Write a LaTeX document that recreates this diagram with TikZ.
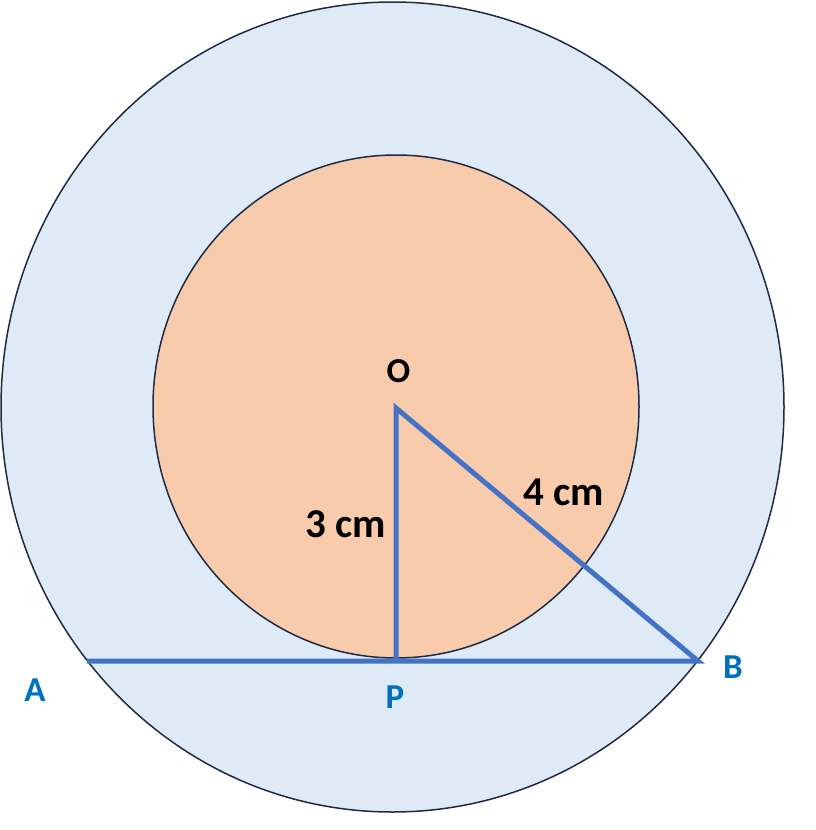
\documentclass[tikz,border=0pt]{standalone}
\usepackage{fontspec}
\setmainfont{Carlito}
\definecolor{ringblue}{HTML}{DEEBF7}
\definecolor{discorange}{HTML}{F8CBAD}
\definecolor{rimnavy}{HTML}{1F2B45}
\definecolor{segblue}{HTML}{4472C4}
\definecolor{ptblue}{HTML}{0070C0}
\begin{document}
\begin{tikzpicture}[x=1pt, y=-1pt,
    rim/.style={draw=rimnavy, line width=1.5pt},
    seg/.style={draw=segblue, line width=5pt},
    ptlabel/.style={text=ptblue, font=\bfseries\fontsize{35}{40}\selectfont},
    cmlabel/.style={font=\bfseries\fontsize{41}{46}\selectfont}]
    \useasboundingbox (0,0) rectangle (816,830);
    \filldraw[rim, fill=ringblue] (392.5,407) ellipse [x radius=391.5, y radius=405];
    \filldraw[rim, fill=discorange] (396,406.5) ellipse [x radius=243, y radius=251.5];
    \coordinate (O) at (396,408);
    \coordinate (P) at (396,661);
    \coordinate (A) at (87,661);
    \coordinate (B) at (698,661);
    \draw[seg] (A) -- (B) -- (O) -- (P);
    \node[font=\bfseries\fontsize{35}{40}\selectfont] (lblO) at (398.5,371) {O};
    \node[cmlabel] (lbl3) at (346,524) {3 cm};
    \node[cmlabel] (lbl4) at (564,492) {4 cm};
    \node[ptlabel] (lblA) at (35,690) {A};
    \node[ptlabel] (lblP) at (395,697) {P};
    \node[ptlabel] (lblB) at (733,667) {B};
\end{tikzpicture}
\end{document}
